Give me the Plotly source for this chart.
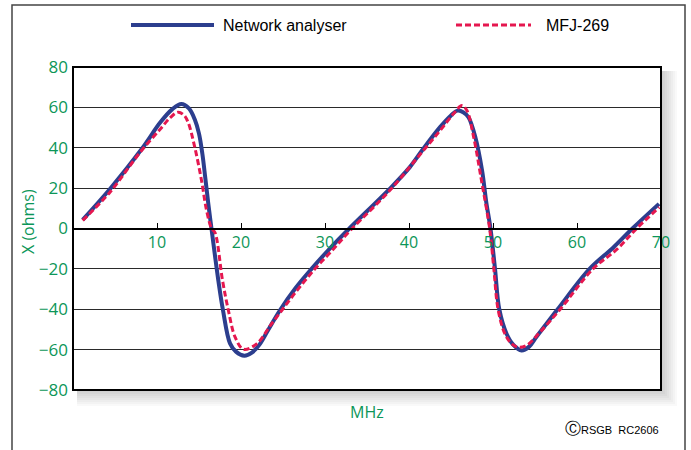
import plotly.graph_objects as go

# ---- data ----
na_freq = [1.15, 4.4, 8.2, 10.4, 11.8, 12.9, 13.8, 14.5, 15.0, 15.4, 15.75, 16.1, 16.5,
           16.9, 17.3, 17.86, 18.69, 19.4, 20.4, 21.3, 22.2, 23.2, 24.64, 26.5, 28.4, 30.6,
           32.9, 37.7, 40.1, 41.7, 43.7, 45.0, 45.75, 46.5, 47.1, 47.9, 48.7, 49.2, 49.7,
           50.24, 50.75, 51.6, 52.4, 53.4, 54.3, 55.2, 57.7, 61.5, 64.3, 66.6, 69.76]
na_x = [4.3, 19.6, 39.5, 52.6, 59, 61.7, 59.5, 54, 47, 37, 25, 12.5, -0.5,
        -13.4, -25.7, -40.6, -56.9, -61, -63, -61.5, -57.5, -50.5, -40.5, -29.5, -20, -9.8,
        0, 19.6, 30.4, 39.5, 50.2, 56, 58.4, 57.5, 55, 45.2, 28.7, 13, 0,
        -20, -40, -52, -57.5, -60.4, -58.5, -53.5, -40, -20, -9.5, 0, 12.2]

mfj_freq = [1.15, 4.4, 8.0, 10.4, 11.6, 12.5, 13.2, 13.7, 14.5, 15.3, 15.9, 16.5, 16.9,
            17.8, 18.5, 19.3, 20.3, 21.9, 23.5, 24.96, 26.8, 28.8, 30.6, 33.0, 37.7, 41.7,
            43.7, 45.3, 46.3, 46.9, 47.7, 48.7, 49.6, 50.1, 50.6, 51.4, 52.2, 53.0, 54.0,
            55.6, 58.0, 61.9, 64.7, 67.1, 69.8]
mfj_x = [4, 18, 37.8, 49.3, 55, 57.6, 56.2, 52.6, 40.2, 23.8, 9, 0, -2,
         -25.7, -40.6, -53.8, -59.8, -57, -48, -40, -30, -20, -12, -1, 18.8, 38.6,
         48.5, 56.8, 60.9, 58.4, 45.2, 22.1, 0, -20, -40, -52, -57, -58.8, -57.9,
         -51.3, -40, -20, -10.5, 0, 10.5]

x_ticks = [10, 20, 30, 40, 50, 60, 70]
y_ticks = [-80, -60, -40, -20, 0, 20, 40, 60, 80]
series_names = ["Network analyser", "MFJ-269"]

GREEN = "#0c9658"
BLUE = "#2c3e8e"
RED = "#e5174f"
W, H = 691, 450
L, R, T, B = 73, 30, 67, 60
PW, PH = W - L - R, H - T - B


def px_x(p):
    return (p - L) / PW


def px_y(p):
    return (H - B - p) / PH


fig = go.Figure()
fig.add_trace(go.Scatter(x=na_freq, y=na_x, mode="lines", name=series_names[0],
                         line=dict(color=BLUE, width=4, shape="spline", smoothing=1.0)))
fig.add_trace(go.Scatter(x=mfj_freq, y=mfj_x, mode="lines", name=series_names[1],
                         line=dict(color=RED, width=3, dash="6px,3px", shape="spline", smoothing=1.0)))

shapes = []
# shadow around plot box
for i in range(1, 9):
    shapes.append(dict(type="rect", xref="paper", yref="paper", layer="below",
                       x0=px_x(L + 4), x1=px_x(L + PW + 2 * i), y0=px_y(T + PH + 2 * i), y1=px_y(T + 4),
                       line=dict(width=0), fillcolor="rgba(0,0,0,0.022)"))
shapes.append(dict(type="rect", xref="x domain", yref="y domain", layer="below",
                   x0=0, x1=1, y0=0, y1=1, line=dict(width=0), fillcolor="white"))
# plot frame
shapes.append(dict(type="rect", xref="x domain", yref="y domain", layer="above",
                   x0=0, x1=1, y0=0, y1=1, line=dict(color="black", width=2)))
# outer frame
shapes.append(dict(type="path", xref="paper", yref="paper", layer="above",
                   path=f"M {px_x(12)} {px_y(460)} L {px_x(12)} {px_y(5)} L {px_x(685)} {px_y(5)} L {px_x(685)} {px_y(460)}",
                   line=dict(color="#444", width=1.5)))
# legend samples
shapes.append(dict(type="line", xref="paper", yref="paper", x0=px_x(131), x1=px_x(214),
                   y0=px_y(25), y1=px_y(25), line=dict(color=BLUE, width=4)))
shapes.append(dict(type="line", xref="paper", yref="paper", x0=px_x(456), x1=px_x(531),
                   y0=px_y(25), y1=px_y(25), line=dict(color=RED, width=3, dash="6px,3px")))

annotations = [
    dict(text=series_names[0], xref="paper", yref="paper", x=px_x(221), y=px_y(25),
         xanchor="left", yanchor="middle", showarrow=False,
         font=dict(family="Liberation Sans", size=16, color="black")),
    dict(text=series_names[1], xref="paper", yref="paper", x=px_x(544), y=px_y(25),
         xanchor="left", yanchor="middle", showarrow=False,
         font=dict(family="Liberation Sans", size=16, color="black")),
    dict(text="X (ohms)", xref="paper", yref="paper", x=px_x(28), y=px_y(222),
         xanchor="center", yanchor="middle", textangle=-90, showarrow=False,
         font=dict(family="Open Sans", size=16, color=GREEN)),
    dict(text="MHz", xref="paper", yref="paper", x=px_x(367), y=px_y(412),
         xanchor="center", yanchor="middle", showarrow=False,
         font=dict(family="Open Sans", size=16, color=GREEN)),
    dict(text="<span style='font-size:16px'>Ⓒ</span>RSGB  RC2606", xref="paper", yref="paper",
         x=px_x(661), y=px_y(428), xanchor="right", yanchor="middle", showarrow=False,
         font=dict(family="Liberation Sans", size=11, color="black")),
]

fig.update_layout(
    width=W, height=H, autosize=False,
    margin=dict(l=L, r=R, t=T, b=B, pad=0),
    paper_bgcolor="white", plot_bgcolor="white",
    showlegend=False,
    shapes=shapes, annotations=annotations,
    xaxis=dict(range=[0, 70], tickvals=x_ticks, ticktext=[str(v) for v in x_ticks],
               anchor="free", position=0.5, side="bottom",
               ticks="inside", ticklen=5, tickwidth=1.2, tickcolor="black",
               showline=True, linecolor="black", linewidth=1.5,
               showgrid=False, zeroline=False,
               tickfont=dict(family="Open Sans", size=16, color=GREEN)),
    yaxis=dict(range=[-80, 80], tickvals=y_ticks, ticks="", showline=False,
               showgrid=True, gridcolor="#2a2a2a", gridwidth=1, zeroline=False,
               ticklabelstandoff=4,
               tickfont=dict(family="Open Sans", size=17, color=GREEN)),
)

fig.write_html("out.html", config={"displayModeBar": False},
               post_script="document.body.style.margin='0';")
